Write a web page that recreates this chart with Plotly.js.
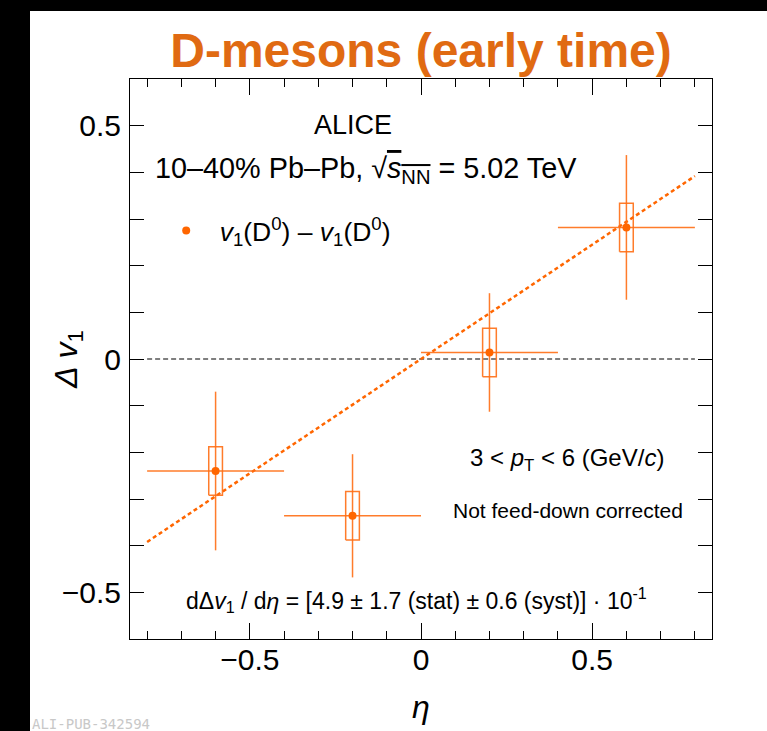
<!DOCTYPE html>
<html><head><meta charset="utf-8">
<script src="https://cdn.plot.ly/plotly-3.0.1.min.js"></script>
<style>
html,body{margin:0;padding:0;background:#000;width:767px;height:731px;overflow:hidden}
#plot{position:absolute;left:30px;top:11px;width:737px;height:720px;background:#fff}
</style>
</head><body><div id="plot"></div>
<script>
// ---- data ----
const etaCenters   = [-0.6, -0.2, 0.2, 0.6];
const etaHalfWidth = [0.2, 0.2, 0.2, 0.2];
const deltaV1      = [-0.240, -0.336, 0.014, 0.282];
const statErr      = [0.170, 0.132, 0.127, 0.155];
const systErr      = [0.052, 0.052, 0.052, 0.052];
const fitSlope = 0.49, fitIntercept = 0.0;
const fitEta   = [-0.8, 0.8];
const refEta   = [-0.8, 0.8];
const refVal   = [0, 0];
const xTickVals = [-0.5, 0, 0.5];
const xTickText = ['\u22120.5', '0', '0.5'];
const yTickVals = [-0.5, 0, 0.5];
const yTickText = ['\u22120.5', '0', '0.5'];

const orange = 'rgb(255,102,0)';
const orangeBar = 'rgba(255,110,20,0.9)';
const boxHalf = 0.02;

// systematic boxes
const bx = [], by = [];
etaCenters.forEach((c, i) => {
  const lo = deltaV1[i] - systErr[i], hi = deltaV1[i] + systErr[i];
  bx.push(c - boxHalf, c + boxHalf, c + boxHalf, c - boxHalf, c - boxHalf, null);
  by.push(lo, lo, hi, hi, lo, null);
});

const fitVals = fitEta.map(e => fitSlope * e + fitIntercept);

const traces = [
  {x: refEta, y: refVal, mode: 'lines', line: {color: '#000', width: 1.2, dash: '5px,3px'},
   showlegend: false, hoverinfo: 'skip'},
  {x: fitEta, y: fitVals, mode: 'lines', line: {color: orange, width: 2.5, dash: '4px,3px'},
   showlegend: false, hoverinfo: 'skip'},
  {x: bx, y: by, mode: 'lines', line: {color: orangeBar, width: 1.5}, showlegend: false,
   hoverinfo: 'skip', connectgaps: false},
  {x: etaCenters, y: deltaV1, mode: 'markers', type: 'scatter',
   name: '<i>v</i><sub>1</sub>(D<sup>0</sup>) \u2013 <i>v</i><sub>1</sub>(D<sup>0</sup>)',
   marker: {color: orange, size: 8},
   error_y: {type: 'data', array: statErr, color: orangeBar, thickness: 1.5, width: 0},
   error_x: {type: 'data', array: etaHalfWidth, color: orangeBar, thickness: 1.5, width: 0}}
];

const font = 'Liberation Sans, Arial, sans-serif';
const layout = {
  width: 737, height: 720,
  margin: {l: 100, r: 55, t: 68, b: 92},
  paper_bgcolor: '#fff', plot_bgcolor: '#fff',
  font: {family: font, color: '#000'},
  title: {text: '<b>D-mesons (early time)</b>',
          font: {family: 'Liberation Sans Narrow, Arial Narrow, sans-serif', size: 48, color: '#e06a12'},
          x: 0.5, xref: 'paper', xanchor: 'center', y: 0.946, yref: 'container', yanchor: 'middle'},
  showlegend: true,
  legend: {x: 0.039, y: 0.729, xanchor: 'left', yanchor: 'middle', bgcolor: 'rgba(0,0,0,0)',
           font: {family: font, size: 26.5}, itemwidth: 57},
  xaxis: {range: [-0.85, 0.85], showgrid: false, zeroline: false,
          showline: true, linecolor: '#000', linewidth: 1, mirror: 'allticks',
          ticks: 'inside', ticklen: 16, tickwidth: 1, tickcolor: '#000',
          tickvals: xTickVals, ticktext: xTickText, tickfont: {size: 30, family: font},
          ticklabelstandoff: -6,
          minor: {dtick: 0.1, tick0: 0, ticks: 'inside', ticklen: 8, tickwidth: 1, tickcolor: '#000', showgrid: false},
          title: {text: '<i>η</i>', font: {size: 32, family: font}, standoff: 20}},
  yaxis: {range: [-0.6, 0.6], showgrid: false, zeroline: false,
          showline: true, linecolor: '#000', linewidth: 1, mirror: 'allticks',
          ticks: 'inside', ticklen: 14, tickwidth: 1, tickcolor: '#000',
          tickvals: yTickVals, ticktext: yTickText, tickfont: {size: 30, family: font},
          ticklabelstandoff: 2,
          minor: {dtick: 0.1, tick0: 0, ticks: 'inside', ticklen: 14, tickwidth: 1, tickcolor: '#000', showgrid: false}},
  annotations: [
    {text: '<i>Δ v</i><sub>1</sub>', textangle: -90, xref: 'paper', yref: 'paper',
     x: -0.107, y: 0.5, xanchor: 'center', yanchor: 'middle', showarrow: false,
     font: {size: 32, family: font}},
    {text: 'ALICE', xref: 'paper', yref: 'paper', x: 0.384, y: 0.918,
     xanchor: 'center', yanchor: 'middle', showarrow: false, font: {size: 27, family: font}},
    {text: '10\u201340% Pb\u2013Pb, √<span style="text-decoration:overline"><i>s</i><sub>NN</sub></span> = 5.02 TeV',
     xref: 'paper', yref: 'paper', x: 0.0395, y: 0.8375, xanchor: 'left', yanchor: 'middle',
     showarrow: false, font: {size: 28.8, family: font}},
    {text: '3 &lt; <i>p</i><sub>T</sub> &lt; 6 (GeV/<i>c</i>)', xref: 'paper', yref: 'paper',
     x: 0.751, y: 0.320, xanchor: 'center', yanchor: 'middle', showarrow: false,
     font: {size: 24, family: font}},
    {text: 'Not feed-down corrected', xref: 'paper', yref: 'paper',
     x: 0.753, y: 0.230, xanchor: 'center', yanchor: 'middle', showarrow: false,
     font: {size: 21, family: font}},
    {text: 'dΔ<i>v</i><sub>1</sub> / d<i>η</i> = [4.9 ± 1.7 (stat) ± 0.6 (syst)] · 10<sup>-1</sup>',
     xref: 'paper', yref: 'paper', x: 0.493, y: 0.070, xanchor: 'center', yanchor: 'middle',
     showarrow: false, font: {size: 23, family: font}},
    {text: 'ALI-PUB-342594', xref: 'paper', yref: 'paper', x: -0.172, y: -0.152,
     xanchor: 'left', yanchor: 'middle', showarrow: false,
     font: {size: 14, family: 'DejaVu Sans Mono, monospace', color: '#c8c8c8'}}
  ]
};

Plotly.newPlot('plot', traces, layout, {displayModeBar: false, staticPlot: true});
</script>
</body></html>
